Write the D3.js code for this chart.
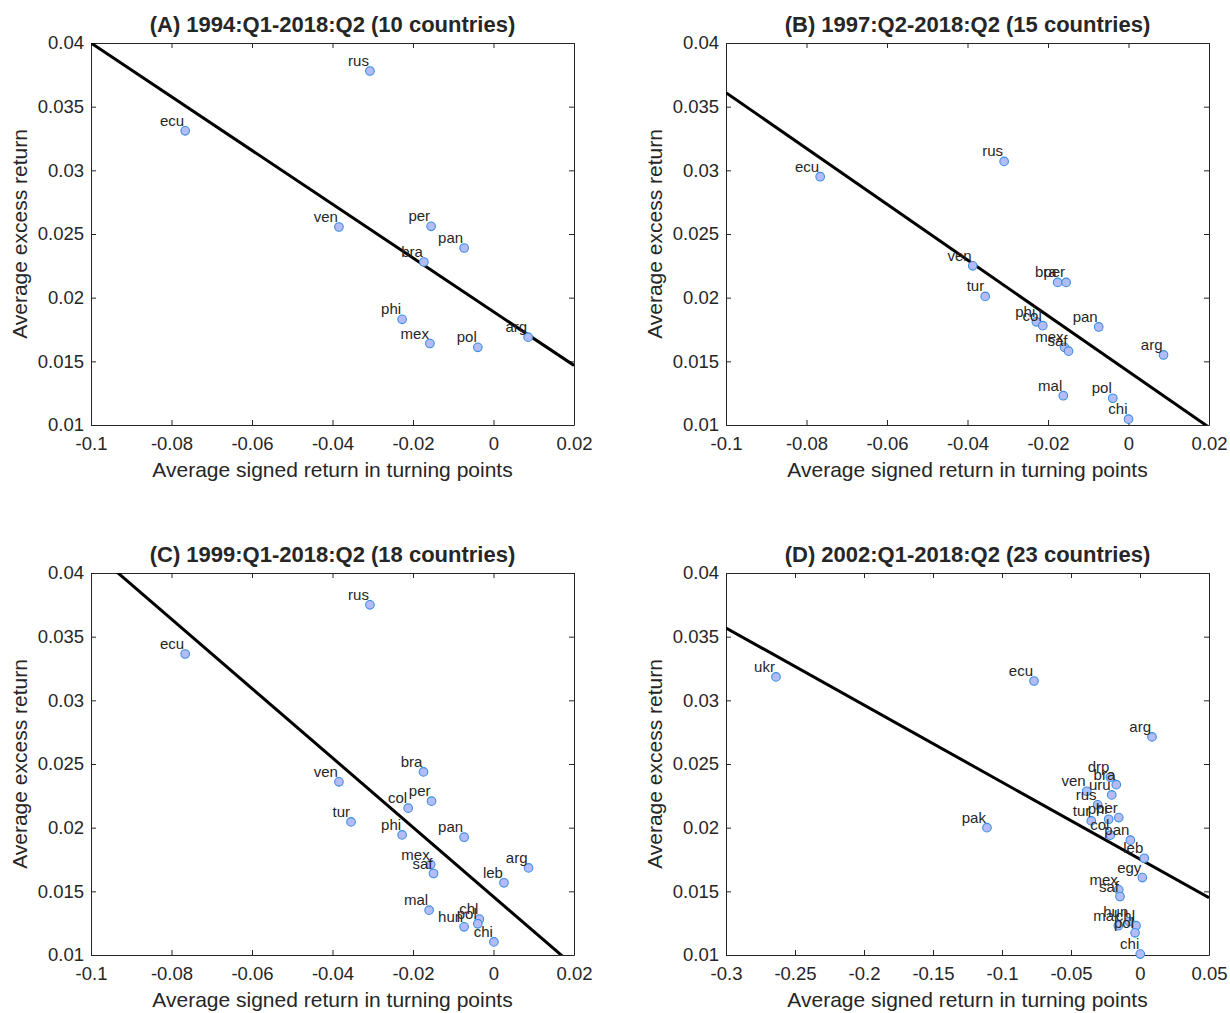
<!DOCTYPE html>
<html>
<head>
<meta charset="utf-8">
<script src="https://cdn.jsdelivr.net/npm/d3@7"></script>
<style>
  body { margin: 0; background: #fff; }
  svg text { font-family: "Liberation Sans", Arial, sans-serif; fill: #262626; }
</style>
</head>
<body>
<svg id="chart" width="1230" height="1013"></svg>
<script>
// panel A: 1994:Q1-2018:Q2
const namesA = ['rus', 'ecu', 'ven', 'per', 'pan', 'bra', 'phi', 'mex', 'pol', 'arg'];
const signedA = [-0.0307, -0.0766, -0.0384, -0.0155, -0.0073, -0.0173, -0.0227, -0.0158, -0.0039, 0.0086];
const excessA = [0.0378, 0.0331, 0.02555, 0.0256, 0.0239, 0.0228, 0.0183, 0.0164, 0.0161, 0.0169];
const fitA = [-0.211, 0.0189]; // slope, intercept

// panel B: 1997:Q2-2018:Q2
const namesB = ['rus', 'ecu', 'ven', 'tur', 'bra', 'per', 'phi', 'col', 'pan', 'arg', 'mex', 'saf', 'mal', 'pol', 'chi'];
const signedB = [-0.0309, -0.0766, -0.0387, -0.0356, -0.0176, -0.0155, -0.0229, -0.0213, -0.0074, 0.0087, -0.0159, -0.0149, -0.0162, -0.0039, 0.0];
const excessB = [0.0307, 0.0295, 0.0225, 0.0201, 0.0212, 0.0212, 0.0181, 0.0178, 0.0177, 0.0155, 0.0161, 0.0158, 0.0123, 0.0121, 0.01046];
const fitB = [-0.219, 0.0142];

// panel C: 1999:Q1-2018:Q2
const namesC = ['rus', 'ecu', 'ven', 'tur', 'bra', 'per', 'col', 'phi', 'pan', 'mex', 'saf', 'arg', 'leb', 'mal', 'chl', 'pol', 'hun', 'chi'];
const signedC = [-0.0307, -0.0766, -0.0384, -0.0354, -0.0174, -0.0154, -0.0212, -0.0227, -0.0073, -0.0156, -0.0149, 0.0087, 0.0026, -0.016, -0.0035, -0.0039, -0.0073, 0.0001];
const excessC = [0.0375, 0.03364, 0.0236, 0.02045, 0.02438, 0.02208, 0.02153, 0.01943, 0.01925, 0.0171, 0.0164, 0.01684, 0.01567, 0.01352, 0.01282, 0.01245, 0.01221, 0.01103];
const fitC = [-0.2725, 0.01458];

// panel D: 2002:Q1-2018:Q2
const namesD = ['ukr', 'ecu', 'arg', 'pak', 'drp', 'bra', 'ven', 'uru', 'rus', 'tur', 'phi', 'per', 'col', 'pan', 'leb', 'egy', 'mex', 'saf', 'hun', 'mal', 'chl', 'pol', 'chi'];
const signedD = [-0.2638, -0.0768, 0.0087, -0.1109, -0.0215, -0.0172, -0.0386, -0.0205, -0.0307, -0.0353, -0.0227, -0.0154, -0.0215, -0.007, 0.0031, 0.0017, -0.0154, -0.0145, -0.0078, -0.0157, -0.0029, -0.0036, 0.0002];
const excessD = [0.03184, 0.03152, 0.02713, 0.02, 0.02396, 0.02338, 0.02286, 0.02257, 0.02179, 0.02053, 0.02066, 0.02079, 0.01941, 0.01902, 0.0176, 0.01608, 0.01512, 0.01459, 0.01263, 0.0123, 0.0123, 0.01174, 0.01007];
const fitD = [-0.06054, 0.01752];

const titles = [
  '(A) 1994:Q1-2018:Q2 (10 countries)',
  '(B) 1997:Q2-2018:Q2 (15 countries)',
  '(C) 1999:Q1-2018:Q2 (18 countries)',
  '(D) 2002:Q1-2018:Q2 (23 countries)'
];
const xTicksSmall = [-0.1, -0.08, -0.06, -0.04, -0.02, 0, 0.02];
const xTicksWide = [-0.3, -0.25, -0.2, -0.15, -0.1, -0.05, 0, 0.05];
const yTicks = [0.01, 0.015, 0.02, 0.025, 0.03, 0.035, 0.04];

const panels = [
  { names: namesA, xs: signedA, ys: excessA, fit: fitA, xTicks: xTicksSmall, left: 91, top: 43 },
  { names: namesB, xs: signedB, ys: excessB, fit: fitB, xTicks: xTicksSmall, left: 726, top: 43 },
  { names: namesC, xs: signedC, ys: excessC, fit: fitC, xTicks: xTicksSmall, left: 91, top: 573 },
  { names: namesD, xs: signedD, ys: excessD, fit: fitD, xTicks: xTicksWide, left: 726, top: 573 }
];

const svg = d3.select('#chart');
const w = 483, h = 382, tick = 5;
const fmt = (v) => String(+v.toFixed(3));

panels.forEach((p, i) => {
  const xDomain = d3.extent(p.xTicks);
  const x = d3.scaleLinear().domain(xDomain).range([0, w]);
  const y = d3.scaleLinear().domain([0.01, 0.04]).range([h, 0]);

  const g = svg.append('g').attr('transform', `translate(${p.left},${p.top})`);
  const clipId = 'clip' + i;
  g.append('clipPath').attr('id', clipId).append('rect').attr('width', w).attr('height', h);

  // axes, matlab style: ticks inward, mirrored on top and right
  const axisStyle = (sel) => {
    sel.select('.domain').attr('stroke', '#262626');
    sel.selectAll('.tick line').attr('stroke', '#262626');
    sel.selectAll('.tick text').style('font-size', '18.5px').attr('fill', '#262626');
  };
  g.append('g').attr('transform', `translate(0,${h})`)
    .call(d3.axisBottom(x).tickValues(p.xTicks).tickFormat(fmt).tickSizeInner(-tick).tickSizeOuter(0).tickPadding(12))
    .call(axisStyle);
  g.append('g')
    .call(d3.axisTop(x).tickValues(p.xTicks).tickFormat('').tickSizeInner(-tick).tickSizeOuter(0))
    .call(axisStyle);
  g.append('g')
    .call(d3.axisLeft(y).tickValues(yTicks).tickFormat(fmt).tickSizeInner(-tick).tickSizeOuter(0).tickPadding(7))
    .call(axisStyle);
  g.append('g').attr('transform', `translate(${w},0)`)
    .call(d3.axisRight(y).tickValues(yTicks).tickFormat('').tickSizeInner(-tick).tickSizeOuter(0))
    .call(axisStyle);

  // fitted line
  const [slope, icpt] = p.fit;
  g.append('line')
    .attr('clip-path', `url(#${clipId})`)
    .attr('x1', x(xDomain[0])).attr('y1', y(icpt + slope * xDomain[0]))
    .attr('x2', x(xDomain[1])).attr('y2', y(icpt + slope * xDomain[1]))
    .attr('stroke', '#000').attr('stroke-width', 3);

  const pts = p.names.map((n, k) => ({ n, vx: p.xs[k], vy: p.ys[k] }));

  g.selectAll('circle.pt').data(pts).enter().append('circle')
    .attr('class', 'pt')
    .attr('cx', (d) => x(d.vx)).attr('cy', (d) => y(d.vy)).attr('r', 4.3)
    .attr('fill', '#b3bcf7').attr('stroke', '#3b8de3').attr('stroke-width', 1.1);

  g.selectAll('text.lab').data(pts).enter().append('text')
    .attr('class', 'lab')
    .attr('x', (d) => x(d.vx) - 1).attr('y', (d) => y(d.vy) - 5)
    .attr('text-anchor', 'end')
    .style('font-size', '15px')
    .text((d) => d.n);

  g.append('text')
    .attr('x', w / 2).attr('y', -11)
    .attr('text-anchor', 'middle')
    .style('font-size', '22px').style('font-weight', 'bold').attr('fill', '#000')
    .text(titles[i]);

  g.append('text')
    .attr('x', w / 2).attr('y', h + 52)
    .attr('text-anchor', 'middle')
    .style('font-size', '21px')
    .text('Average signed return in turning points');

  g.append('text')
    .attr('transform', `translate(${-64},${h / 2}) rotate(-90)`)
    .attr('text-anchor', 'middle')
    .style('font-size', '21px')
    .text('Average excess return');
});
</script>
</body>
</html>
